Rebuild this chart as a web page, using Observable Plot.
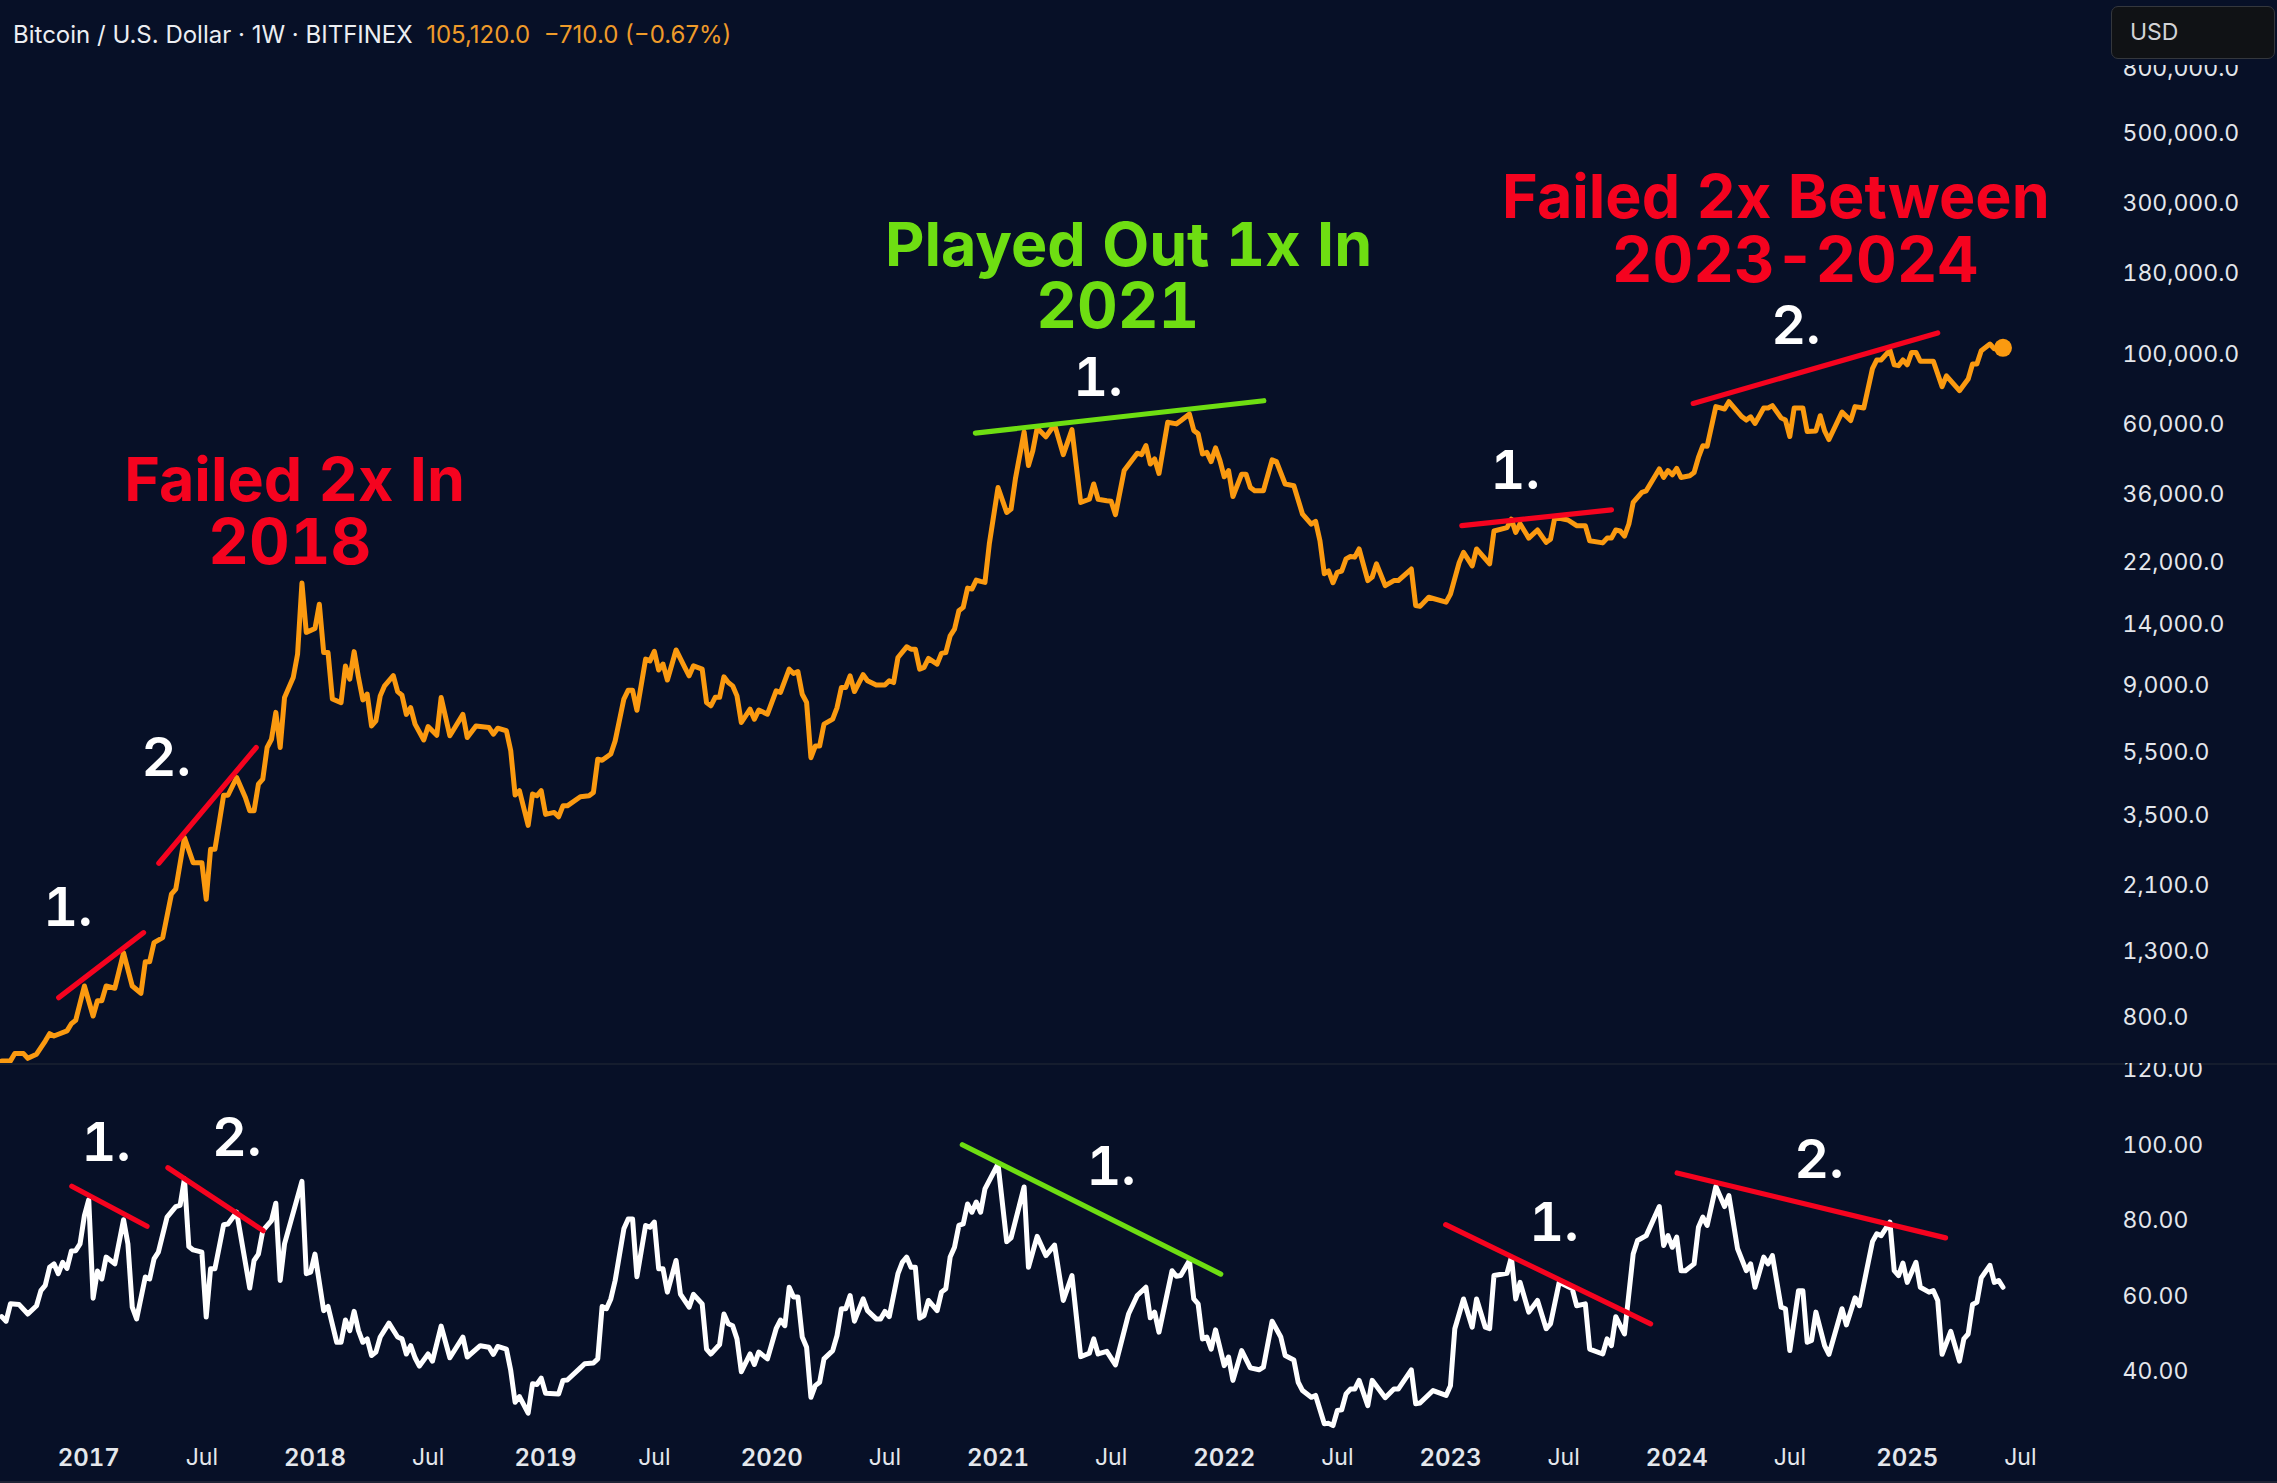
<!DOCTYPE html>
<html>
<head>
<meta charset="utf-8">
<script src="https://cdn.jsdelivr.net/npm/d3@7"></script>
<script src="https://cdn.jsdelivr.net/npm/@observablehq/plot@0.6"></script>
<style>
  html, body { margin: 0; padding: 0; background: #071027; }
  body { position: relative; width: 2277px; height: 1483px; overflow: hidden; font-family: Inter, sans-serif; }
  #price, #rsi { position: absolute; left: 0; }
  #price { top: 0; }
  #rsi { top: 1063px; }
  #head { position: absolute; left: 13px; top: 20px; font-size: 24px; line-height: 30px; color: #eceef2; white-space: pre; z-index: 3; }
  #head span { color: #ef9b2a; }
  #usd { position: absolute; left: 2111px; top: 6px; width: 164px; height: 53px; box-sizing: border-box; background: #101215; border: 1px solid #34373d; border-radius: 7px; color: #d2d3d6; font-size: 23px; line-height: 51px; padding-left: 18px; z-index: 3; }
  #mask { position: absolute; left: 2105px; top: 0; width: 172px; height: 65px; background: #071027; z-index: 2; }
  #foot { position: absolute; left: 0; top: 1481px; width: 2277px; height: 2px; background: #1d2335; }
</style>
</head>
<body>
<div id="price"></div>
<div id="rsi"></div>
<div id="foot"></div>
<div id="head">Bitcoin / U.S. Dollar · 1W · BITFINEX  <span>105,120.0  −710.0 (−0.67%)</span></div>
<div id="mask"></div>
<div id="usd">USD</div>
<script>
// Weekly bars, counted from the week of 2016-08-15: [week, close]
const pricePoints = [[0,585],[2,585],[3,617],[5,617],[6,596],[8,614],[10,676],[11,713],[12,701],[15,728],[16,767],[17,786],[19,1009],[21,811],[22,906],[23,906],[24,1009],[26,993],[28,1285],[30,1009],[32,957],[33,1205],[34,1205],[35,1384],[37,1435],[39,1968],[40,2042],[42,2972],[44,2477],[46,2477],[47,1897],[48,2729],[49,2729],[51,4046],[52,4046],[54,4603],[56,3981],[57,3614],[58,3614],[59,4387],[60,4548],[61,5728],[62,6081],[63,7396],[64,5728],[65,8247],[67,9527],[68,11300],[69,18960],[70,13240],[72,13620],[73,16260],[74,11430],[75,11430],[76,8150],[78,7943],[79,10370],[80,9420],[81,11510],[82,9530],[83,8100],[84,8450],[85,6700],[86,6950],[87,8340],[88,8970],[90,9660],[91,8600],[92,8380],[93,7290],[94,7660],[95,6790],[97,6050],[98,6670],[100,6260],[101,8240],[103,6240],[106,7290],[107,6160],[109,6700],[112,6620],[113,6310],[114,6590],
[116,6470],[117,5590],[118,4050],[119,4180],[121,3250],[122,4080],[123,4030],[124,4180],[125,3520],[127,3570],[128,3460],[129,3745],[130,3745],[133,4000],[135,4030],[136,4130],[137,5260],[138,5220],[140,5460],[141,6010],[143,8150],[144,8690],[145,8690],[146,7510],[148,10900],[149,10760],[150,11530],[151,10070],[152,10510],[153,9360],[155,11650],[157,10260],[158,9650],[159,10380],[161,10130],[162,7950],[163,7760],[164,8250],[165,8250],[166,9580],[167,9190],[168,8970],[169,8340],[170,6870],[172,7570],[173,7040],[174,7520],[176,7300],[178,8650],[179,8550],[181,10130],[182,9820],[183,9960],[184,8440],[185,7950],[186,5320],[187,5790],[188,5790],[189,6790],[191,7040],[192,7660],[193,8870],[194,8870],[195,9650],[196,8610],[198,9730],[199,9310],[201,9020],[203,9020],[204,9310],[205,9190],[206,11030],[208,11920],[209,11720],[210,11720],[211,10130],[212,10260],[213,10950],[215,10510],[216,11360],[217,11430],[218,12910],[219,13550],[220,15490],[221,15880],[222,18270],[223,18150],[224,19380],[225,19190],[226,19050],
[227,25200],[229,38000],[231,31700],[232,32500],[233,40500],[235,57000],[236,44600],[237,49700],[238,58600],[240,55000],[242,60100],[244,48300],[246,57900],[248,34100],[250,34900],[251,39000],[252,34900],[254,34500],[255,34400],[256,31200],[258,43000],[261,48800],[262,48300],[263,51600],[264,45100],[265,46800],[266,42100],[268,61100],[270,60400],[271,61800],[273,64900],[274,57600],[275,56200],[276,48500],[277,49100],[278,45900],[279,50700],[280,46300],[281,41100],[282,43000],[283,35600],[285,41900],[286,41900],[287,38000],[288,37100],[290,37100],[292,46500],[293,45900],[295,39000],[297,38500],[299,31300],[301,29100],[302,29700],[303,25800],[304,20300],[305,20700],[306,19000],[307,20500],[308,20700],[309,22600],[310,23000],[311,22900],[312,24300],[314,19300],[315,19800],[316,21800],[318,18600],[320,19300],[321,19300],[324,21000],[325,16100],[326,16000],[328,17100],[332,16500],[333,17500],
[335,22000],[336,23700],[338,21500],[339,24300],[342,21800],[343,27700],[346,28400],[347,30200],[348,27400],[349,29200],[351,26300],[353,27900],[355,25500],[356,26100],[357,30600],[360,30000],[362,28800],[364,28800],[365,25800],[368,25400],[369,26300],[370,26300],[371,27900],[372,27700],[373,26700],[374,29100],[375,34100],[377,36700],[378,37100],[381,43500],[382,40900],[383,43000],[384,41700],[385,43700],[386,40900],[388,41400],[389,42400],[390,47300],[391,51500],[392,51300],[394,68500],[396,67300],[397,71000],[400,63600],[401,62100],[402,63600],[403,60600],[405,67800],[406,67800],[407,69000],[409,63100],[410,62100],[411,55100],[412,67800],[414,67800],[415,57100],[417,57400],[418,64100],[419,57400],[420,53900],[423,65800],[425,61900],[426,68500],[428,67800],[430,90300],[431,96200],[432,96200],[434,103400],[435,92900],[436,92300],[437,96200],[438,92900],[439,101600],[440,101600],[441,95300],[444,95300],[446,79200],[447,85700],[450,76900],[452,83700],[453,93400],[454,93400],[455,102900],[457,108000],[458,104400],[460,105120]];

const rsiPoints = [[0,54.6],[1,53.4],[2,58.0],[4,57.8],[6,55.3],[8,57.5],[9,61.5],[10,62.9],[11,67.7],[12,68.6],[13,66.0],[14,69.0],[15,67.4],[16,72.0],[17,72.1],[18,73.9],[19,81.4],[20,85.6],[21,59.5],[22,66.7],[23,64.6],[24,70.4],[26,68.6],[28,80.3],[29,73.9],[30,57.1],[31,54.0],[33,65.1],[34,64.6],[35,69.9],[36,71.7],[38,81.0],[40,83.8],[41,84.1],[42,91.2],[43,73.2],[44,72.3],[46,71.7],[47,54.5],[48,67.3],[49,67.3],[51,79.0],[52,79.2],[54,82.3],[57,62.2],[58,69.5],[59,71.2],[60,77.4],[62,80.1],[63,84.7],[64,64.2],[65,73.9],[69,90.5],[70,66.0],[71,66.4],[72,71.2],[74,56.2],[75,57.3],[77,47.8],[78,47.8],[79,53.7],[80,50.9],[81,56.0],[82,50.9],[83,47.8],[84,48.7],[85,44.3],[86,45.2],[87,49.2],[89,52.9],[91,49.2],[92,48.7],[93,44.7],[94,46.9],[95,43.7],[96,41.5],[98,44.7],[99,42.8],[101,52.1],[103,43.7],[106,49.2],[107,43.9],[110,46.9],[112,46.5],[113,44.6],[114,46.7],[116,46.0],[117,40.3],[118,31.9],[119,33.4],[121,29.0],[122,36.8],[123,36.6],[124,38.3],[125,34.3],[128,34.1],[129,37.7],[130,37.8],[133,41.0],[134,42.1],[136,42.3],[137,43.4],[138,57.3],[139,56.7],[140,59.3],[141,64.2],[143,77.9],[144,80.5],[145,80.5],[146,65.2],[148,78.8],[149,78.3],[150,79.7],[151,67.3],[152,67.3],[153,61.1],[155,69.5],[156,60.6],[158,57.1],[159,60.5],[161,58.0],[162,46.0],[163,44.7],[165,47.2],[166,55.3],[167,52.7],[168,52.2],[169,48.7],[170,40.0],[172,44.7],[173,41.9],[174,45.2],[176,43.4],[178,51.4],[179,53.7],[180,52.2],[181,62.4],[182,59.8],[183,59.8],[184,49.2],[185,46.5],[186,33.2],[187,36.3],[188,37.2],[189,43.4],[191,45.6],[192,49.6],[193,56.7],[194,56.7],[195,60.2],[196,53.4],[198,59.3],[199,56.2],[201,54.0],[202,54.0],[203,56.0],[204,54.6],[206,66.0],[207,69.0],[208,70.4],[209,67.7],[210,67.7],[211,54.2],[212,54.9],[213,58.9],[215,56.2],[216,61.1],[217,62.0],[218,70.4],[219,73.0],[220,78.8],[221,79.2],[222,84.5],[223,82.3],[224,85.0],[225,82.3],[226,88.5],[229,95.1],[231,74.5],[232,75.5],[235,89.0],[236,67.7],[238,75.9],[240,70.8],[242,73.6],[244,58.9],[246,65.5],[248,44.0],[250,44.9],[251,48.7],[252,44.7],[254,45.4],[256,41.8],[259,55.3],[261,60.2],[263,62.4],[264,54.3],[265,55.8],[266,50.5],[269,66.8],[270,65.3],[271,65.5],[273,69.5],[274,59.3],[275,58.0],[276,48.7],[277,49.2],[278,46.0],[279,51.1],[281,41.6],[282,43.9],[283,37.7],[285,45.6],[287,41.0],[289,40.5],[290,41.2],[292,53.4],[294,49.2],[295,44.3],[297,43.1],[298,37.2],[299,35.0],[301,33.2],[302,33.7],[304,26.2],[305,26.3],[306,25.7],[307,29.7],[308,29.9],[309,34.1],[310,35.4],[311,35.4],[312,37.7],[314,31.0],[315,37.7],[318,33.1],[320,35.4],[321,35.4],[324,40.5],[325,31.5],[326,31.7],[329,35.0],[332,33.7],[333,36.3],[334,51.4],[336,59.3],[338,51.8],[339,59.3],[341,51.8],[342,51.4],[343,65.5],[346,66.1],[347,70.4],[348,59.3],[349,63.7],[351,55.8],[353,58.9],[355,51.4],[356,52.7],[358,63.7],[361,62.0],[362,57.5],[364,58.0],[365,46.0],[368,44.7],[369,48.7],[370,46.9],[371,54.6],[373,50.0],[375,71.2],[376,74.8],[378,76.1],[381,83.8],[382,73.5],[383,76.1],[384,73.0],[385,75.7],[386,66.8],[387,66.8],[389,68.6],[390,78.3],[391,81.0],[392,78.8],[394,89.1],[396,83.8],[397,86.7],[399,72.6],[401,66.8],[402,68.6],[403,62.4],[405,70.4],[406,68.6],[407,70.8],[409,57.1],[410,56.7],[411,45.6],[413,61.5],[414,61.5],[415,47.8],[416,48.3],[417,55.8],[419,46.9],[420,44.6],[423,56.7],[424,52.4],[426,59.6],[427,57.5],[430,74.5],[431,76.6],[432,76.1],[434,79.7],[435,66.8],[436,65.5],[437,68.8],[438,63.7],[440,69.0],[441,62.4],[443,61.1],[444,61.5],[445,58.9],[446,44.6],[448,50.7],[450,42.8],[451,48.7],[452,50.0],[453,57.8],[454,58.4],[455,64.9],[457,68.2],[458,63.7],[459,64.2],[460,62.4]];

// Drawn trend lines: [[week, value], [week, value]]
const priceRedLines = [[[13.1,927],[32.6,1488]],[[36.1,2466],[58.5,5728]],[[335.6,28800],[370,32300]],[[388.8,70100],[445,117100]]];
const priceGreenLines = [[[223.8,56500],[290.1,71500]]];
const rsiRedLines = [[[16.1,89.2],[33.4,78.6]],[[38.2,94.1],[60.1,77.4]],[[331.9,79.0],[379,52.7]],[[385.1,92.7],[446.8,75.5]]];
const rsiGreenLines = [[[220.8,100.2],[280.2,65.9]]];

// Text notes: [label, week, value]
const priceRedHeads = [["Failed 2x In",67.3,40270],["Failed 2x Between",407.8,316000]];
const priceRedYears = [["2018",66.2,25420],["2023-2024",412.2,198400]];
const priceGreenHeads = [["Played Out 1x In",259,222800]];
const priceGreenYears = [["2021",256.5,141900]];
const priceNumbers = [["1.",15.2,1794],["2.",37.8,5350],["1.",252,85100],["1.",347.9,42980],["2.",412.4,123500]];
const rsiNumbers = [["1.",24,100.8],["2.",54,102.1],["1.",255,94.4],["1.",356.8,79.6],["2.",417.7,96.3]];

const priceTicks = [800,1300,2100,3500,5500,9000,14000,22000,36000,60000,100000,180000,300000,500000,800000];
const rsiTicks = [40,60,80,100,120];
const yearTicks = ["2017-01-02","2018-01-01","2019-01-07","2020-01-06","2021-01-04","2022-01-03","2023-01-02","2024-01-01","2025-01-06"];
const julyTicks = ["2017-07-03","2018-07-02","2019-07-01","2020-07-06","2021-07-05","2022-07-04","2023-07-03","2024-07-01","2025-07-07"];

const ORANGE = "#fb9a10", RED = "#f5031f", GREEN = "#6ede12", WHITE = "#ffffff", AXIS = "#e4e7ec";
const FONT = "Inter, sans-serif";
const wk = i => new Date(Date.UTC(2016, 7, 15) + i * 7 * 864e5);
const xOpts = { type: "utc", domain: [new Date("2016-08-13"), new Date("2025-11-29")], axis: null };
const trend = (lines, color) => lines.map(l => Plot.line(l, { x: d => wk(d[0]), y: d => d[1], stroke: color, strokeWidth: 5.2, strokeLinecap: "round" }));
const note = (rows, color, size, weight) => Plot.text(rows, { x: d => wk(d[1]), y: d => d[2], text: d => d[0], fill: color, fontSize: size, fontWeight: weight, fontFamily: FONT, fontVariant: "tabular-nums", textAnchor: "middle", lineAnchor: "middle", dy: 1.5 });
const isoDates = a => a.map(s => new Date(s));
const last = pricePoints[pricePoints.length - 1];

const pricePlot = Plot.plot({
  width: 2277, height: 1063, marginLeft: 0, marginRight: 167, marginTop: 0, marginBottom: 0,
  style: { background: "transparent", fontFamily: FONT, display: "block" },
  x: xOpts,
  y: { type: "log", domain: [574, 1317000], label: null },
  marks: [
    Plot.axisY(priceTicks, { anchor: "right", tickSize: 0, tickPadding: 12, tickFormat: d3.format(",.1f"), fill: AXIS, fontSize: 23, fontFamily: FONT, label: null }),
    Plot.line(pricePoints, { x: d => wk(d[0]), y: d => d[1], stroke: ORANGE, strokeWidth: 5, strokeLinejoin: "round" }),
    Plot.dot([last], { x: d => wk(d[0]), y: d => d[1], r: 9, fill: ORANGE }),
    ...trend(priceRedLines, RED),
    ...trend(priceGreenLines, GREEN),
    note(priceRedHeads, RED, 61, 700),
    note(priceRedYears, RED, 63, 700),
    note(priceGreenHeads, GREEN, 61, 700),
    note(priceGreenYears, GREEN, 63, 700),
    note(priceNumbers, WHITE, 54, 600)
  ]
});
document.getElementById("price").append(pricePlot);

const rsiPlot = Plot.plot({
  width: 2277, height: 420, marginLeft: 0, marginRight: 167, marginTop: 0, marginBottom: 43,
  style: { background: "transparent", fontFamily: FONT, display: "block" },
  x: xOpts,
  y: { domain: [21.75, 121.75], label: null },
  marks: [
    Plot.ruleY([121.75], { stroke: "#151d2e", strokeWidth: 3, x1: new Date("2016-08-13"), x2: new Date("2027-01-01"), clip: false }),
    Plot.axisY(rsiTicks, { anchor: "right", tickSize: 0, tickPadding: 12, tickFormat: d3.format(".2f"), fill: AXIS, fontSize: 23, fontFamily: FONT, label: null }),
    Plot.axisX(isoDates(yearTicks), { anchor: "bottom", tickSize: 0, tickPadding: 8, tickFormat: d => String(d.getUTCFullYear()), fill: AXIS, fontSize: 24, fontWeight: 600, fontFamily: FONT, fontVariant: "tabular-nums", label: null }),
    Plot.axisX(isoDates(julyTicks), { anchor: "bottom", tickSize: 0, tickPadding: 8, tickFormat: () => "Jul", fill: AXIS, fontSize: 23, fontFamily: FONT, label: null }),
    Plot.line(rsiPoints, { x: d => wk(d[0]), y: d => d[1], stroke: WHITE, strokeWidth: 5, strokeLinejoin: "round" }),
    ...trend(rsiRedLines, RED),
    ...trend(rsiGreenLines, GREEN),
    note(rsiNumbers, WHITE, 54, 600)
  ]
});
document.getElementById("rsi").append(rsiPlot);
</script>
</body>
</html>
